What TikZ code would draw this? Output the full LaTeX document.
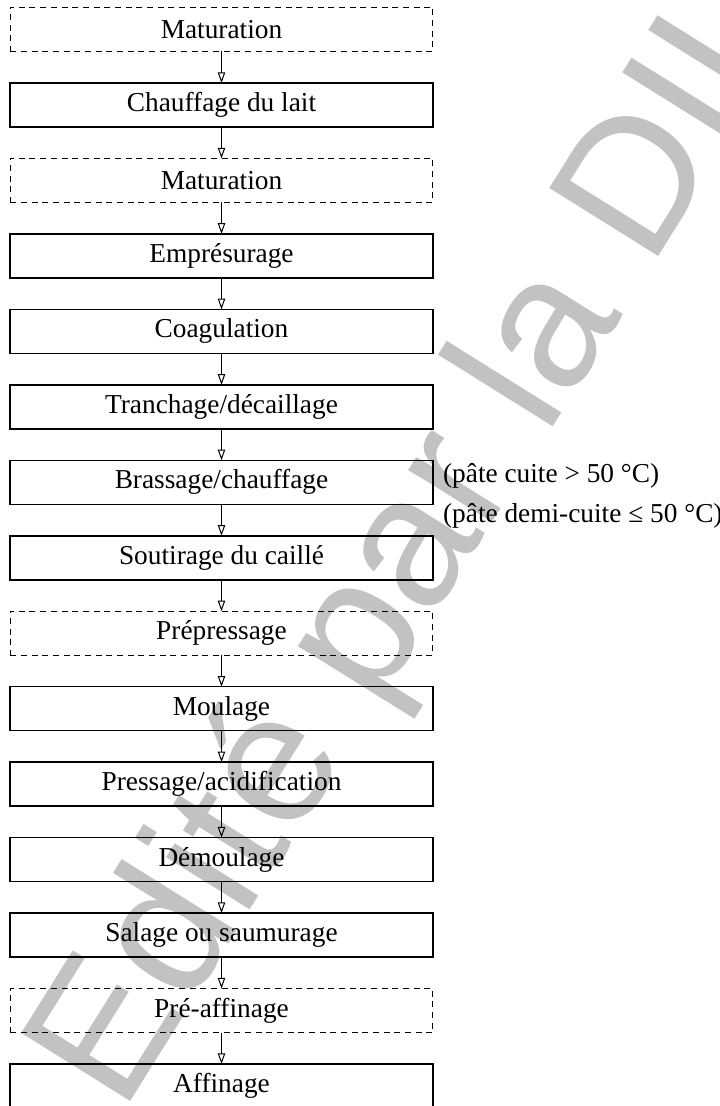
\documentclass[tikz,border=0pt]{standalone}
\usepackage{fontspec}
\setmainfont{Liberation Serif}
\newfontfamily\markfont{Liberation Sans}
\usetikzlibrary{arrows.meta,positioning}

\begin{document}
\begin{tikzpicture}[
    x=0.75pt, y=-0.75pt,
    node distance=23.6pt,
    box/.style={
        rectangle, draw=black, line width=1.1pt, outer sep=0pt,
        align=center, minimum width=317pt, minimum height=33pt,
        font=\fontsize{20.5}{24}\selectfont
    },
    optbox/.style={box, line width=0.9pt, dash pattern=on 4.5pt off 3.5pt},
    arrow/.style={-{Triangle[open,length=8pt,width=5.5pt]}, line width=0.75pt}
]
\useasboundingbox (0,0) rectangle (719,1106);
% watermark of the scan
\node[rotate=58, text=black!24, font=\markfont\fontsize{140}{140}\selectfont] (mark) at (455,490) {Edité par la DILA};

\node[optbox] (mat1) at (221.5,29.5) {Maturation};
\node[box, below=of mat1] (heat) {Chauffage du lait};
\node[optbox, below=of heat] (mat2) {Maturation};
\node[box, below=of mat2] (rennet) {Emprésurage};
\node[box, below=of rennet] (coag) {Coagulation};
\node[box, below=of coag] (cut) {Tranchage/décaillage};
\node[box, below=of cut] (stir) {Brassage/chauffage};
\node[box, below=of stir] (drain) {Soutirage du caillé};
\node[optbox, below=of drain] (prepress) {Prépressage};
\node[box, below=of prepress] (mould) {Moulage};
\node[box, below=of mould] (press) {Pressage/acidification};
\node[box, below=of press] (unmould) {Démoulage};
\node[box, below=of unmould] (salt) {Salage ou saumurage};
\node[optbox, below=of salt] (preripe) {Pré-affinage};
\node[box, below=of preripe] (ripe) {Affinage};

\node[anchor=north west, inner sep=0pt, align=left,
      font=\fontsize{20.5}{30}\selectfont] (temp)
    at ([xshift=7.5pt, yshift=-2pt]stir.north east)
    {(pâte cuite > 50 °C)\\(pâte demi-cuite ≤ 50 °C)};

\draw[arrow] (mat1) -- (heat);
\draw[arrow] (heat) -- (mat2);
\draw[arrow] (mat2) -- (rennet);
\draw[arrow] (rennet) -- (coag);
\draw[arrow] (coag) -- (cut);
\draw[arrow] (cut) -- (stir);
\draw[arrow] (stir) -- (drain);
\draw[arrow] (drain) -- (prepress);
\draw[arrow] (prepress) -- (mould);
\draw[arrow] (mould) -- (press);
\draw[arrow] (press) -- (unmould);
\draw[arrow] (unmould) -- (salt);
\draw[arrow] (salt) -- (preripe);
\draw[arrow] (preripe) -- (ripe);
\end{tikzpicture}
\end{document}
